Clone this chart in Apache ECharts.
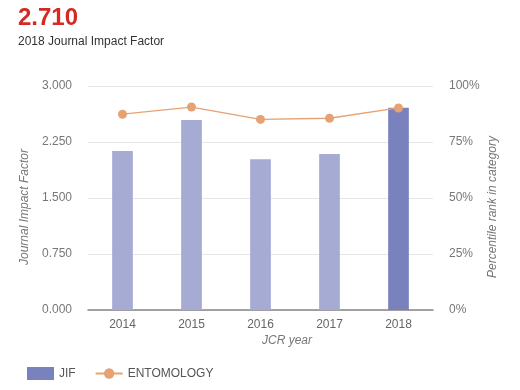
<!DOCTYPE html>
<html><head><meta charset="utf-8">
<script src="https://cdn.jsdelivr.net/npm/echarts@6/dist/echarts.min.js"></script>
<style>html,body{margin:0;padding:0;background:#fff}#c{width:520px;height:390px}</style>
</head><body><div id="c"></div>
<script>
var years = ['2014', '2015', '2016', '2017', '2018'];
var jif = [2.130, 2.545, 2.020, 2.090, 2.710];
var percentile = [87.4, 90.6, 85.1, 85.6, 90.2];
var jifTicks = [0, 0.75, 1.5, 2.25, 3.0];
var pctTicks = [0, 25, 50, 75, 100];

var lightBar = '#a6abd4', darkBar = '#7a82bd', orange = '#e6a273';
var chart = echarts.init(document.getElementById('c'), null, {renderer: 'canvas'});
var font = 'Arial, "Liberation Sans", sans-serif';
chart.setOption({
  animation: false,
  textStyle: {fontFamily: font},
  grid: {left: 88, right: 87, top: 86, bottom: 80},
  graphic: [
    {type: 'text', left: 18, top: 6, style: {text: '2.710', font: 'bold 24px ' + font, fill: '#d42a25'}},
    {type: 'text', left: 18, top: 36, style: {text: '2018 Journal Impact Factor', font: '12px ' + font, fill: '#333'}},
    {type: 'text', left: 262, top: 335, style: {text: 'JCR year', font: 'italic 12px ' + font, fill: '#777'}},
    {type: 'text', x: 25, y: 207, rotation: Math.PI / 2,
      style: {text: 'Journal Impact Factor', font: 'italic 12px ' + font, fill: '#777', align: 'center', verticalAlign: 'middle'}},
    {type: 'text', x: 493, y: 207, rotation: Math.PI / 2,
      style: {text: 'Percentile rank in category', font: 'italic 12px ' + font, fill: '#777', align: 'center', verticalAlign: 'middle'}}
  ],
  legend: {
    left: 22, top: 362, itemWidth: 27, itemHeight: 13, itemGap: 19,
    textStyle: {color: '#555', fontSize: 12, fontFamily: font},
    data: [{name: 'JIF', icon: 'rect'}, {name: 'ENTOMOLOGY'}]
  },
  xAxis: {
    type: 'category', data: years,
    axisLine: {lineStyle: {color: '#888', width: 1.5}},
    axisTick: {alignWithLabel: true, length: 5, lineStyle: {color: '#777'}},
    axisLabel: {color: '#666', fontSize: 12, margin: 9}
  },
  yAxis: [
    {
      type: 'value', min: 0, max: 3, interval: 0.75,
      axisLine: {show: false}, axisTick: {show: false},
      axisLabel: {color: '#777', fontSize: 12, margin: 16, formatter: function (v) { return v.toFixed(3); }},
      splitLine: {lineStyle: {color: '#e6e6e6'}}
    },
    {
      type: 'value', min: 0, max: 100, interval: 25,
      axisLine: {show: false}, axisTick: {show: false},
      axisLabel: {color: '#777', fontSize: 12, margin: 16, formatter: '{value}%'},
      splitLine: {show: false}
    }
  ],
  series: [
    {
      name: 'JIF', type: 'bar', yAxisIndex: 0, barWidth: '30%',
      itemStyle: {color: darkBar},
      data: jif.map(function (v, i) {
        return {value: v, itemStyle: {color: i === jif.length - 1 ? darkBar : lightBar}};
      })
    },
    {
      name: 'ENTOMOLOGY', type: 'line', yAxisIndex: 1, data: percentile,
      symbol: 'circle', symbolSize: 9,
      lineStyle: {color: orange, width: 1.3},
      itemStyle: {color: orange}
    }
  ]
});
</script></body></html>
